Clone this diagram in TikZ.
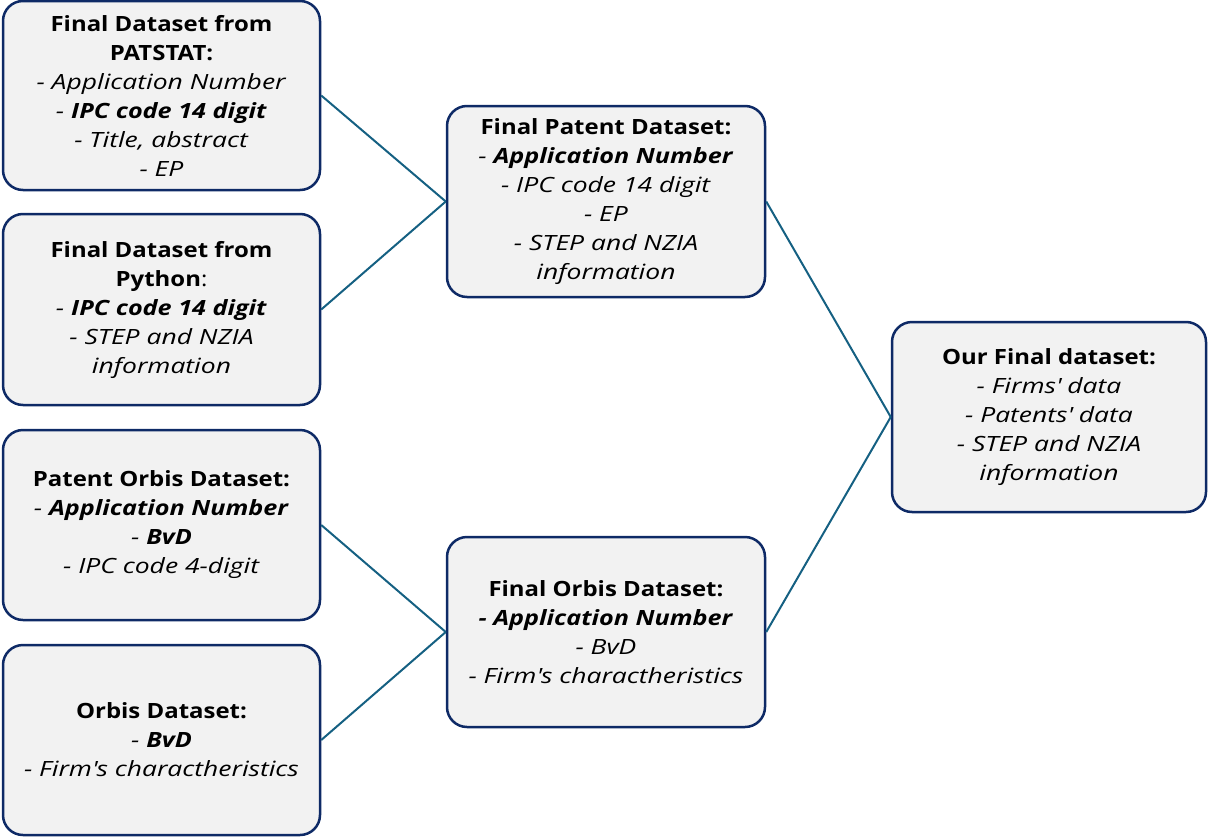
\documentclass[tikz,border=0pt]{standalone}
\usepackage{fontspec}
\setmainfont{Open Sans}[
  UprightFeatures={FakeStretch=1.13},
  BoldFeatures={FakeStretch=1.14},
  ItalicFeatures={FakeStretch=1.26},
  BoldItalicFeatures={FakeStretch=1.2}]
\definecolor{boxfill}{HTML}{F2F2F2}
\definecolor{boxline}{HTML}{0E2A66}
\definecolor{linkline}{HTML}{156082}
\newcommand{\ap}{\textquotesingle}
\begin{document}
\begin{tikzpicture}[x=1pt,y=-1pt,
  databox/.style={draw=boxline, fill=boxfill, line width=2.5pt, rounded corners=20pt,
    align=center, inner sep=0pt, font=\fontsize{21}{29}\selectfont},
  link/.style={draw=linkline, line width=2pt}]
\useasboundingbox (0,0) rectangle (1208,838);

% source datasets (left column)
\node[databox, minimum width=317pt, minimum height=189pt] (patstat) at (161.5,95.5)
  {\textbf{Final Dataset from}\\\textbf{PATSTAT:}\\\textit{- Application Number}\\
   \textit{- \textbf{IPC code 14 digit}}\\\textit{- Title, abstract}\\\textit{- EP}};
\node[databox, minimum width=317pt, minimum height=191pt] (python) at (161.5,309.5)
  {\textbf{Final Dataset from}\\\textbf{Python}:\\\textit{- \textbf{IPC code 14 digit}}\\
   \textit{- STEP and NZIA}\\\textit{information}};
\node[databox, minimum width=317pt, minimum height=190pt] (patorbis) at (161.5,525)
  {\textbf{Patent Orbis Dataset:}\\\textit{- \textbf{Application Number}}\\
   \textit{- \textbf{BvD}}\\\textit{- IPC code 4-digit}};
\node[databox, minimum width=317pt, minimum height=190pt] (orbis) at (161.5,740)
  {\textbf{Orbis Dataset:}\\\textit{- \textbf{BvD}}\\\textit{- Firm\ap s charactheristics}};

% merged datasets (middle column)
\node[databox, minimum width=318pt, minimum height=191pt] (patent) at (606,201.5)
  {\textbf{Final Patent Dataset:}\\\textit{- \textbf{Application Number}}\\
   \textit{- IPC code 14 digit}\\\textit{- EP}\\\textit{- STEP and NZIA}\\\textit{information}};
\node[databox, minimum width=318pt, minimum height=190pt] (finorbis) at (606,632)
  {\textbf{Final Orbis Dataset:}\\\textbf{\textit{- Application Number}}\\
   \textit{- BvD}\\\textit{- Firm\ap s charactheristics}};

% result
\node[databox, minimum width=314pt, minimum height=190pt] (final) at (1049,417)
  {\textbf{Our Final dataset:}\\\textit{- Firms\ap{} data}\\\textit{- Patents\ap{} data}\\
   \textit{- STEP and NZIA}\\\textit{information}};

\draw[link] (patstat.east) -- (patent.west);
\draw[link] (python.east) -- (patent.west);
\draw[link] (patorbis.east) -- (finorbis.west);
\draw[link] (orbis.east) -- (finorbis.west);
\draw[link] (patent.east) -- (final.west);
\draw[link] (finorbis.east) -- (final.west);
\end{tikzpicture}
\end{document}
